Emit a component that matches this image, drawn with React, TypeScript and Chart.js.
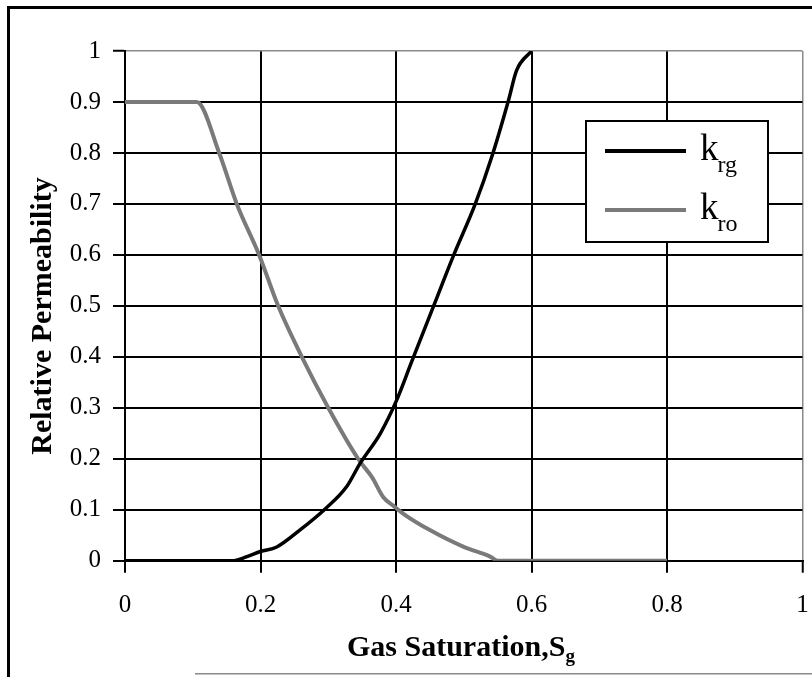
import React, { useEffect, useRef } from 'react';
import { Chart, registerables } from 'chart.js';

Chart.register(...registerables);

// Gas relative permeability k_rg vs gas saturation
const KRG_SG = [0, 0.16, 0.18, 0.2, 0.224, 0.258, 0.295, 0.327, 0.347, 0.377, 0.4, 0.423, 0.455, 0.485, 0.517, 0.542, 0.566, 0.578, 0.6];
const KRG = [0, 0, 0.008, 0.018, 0.027, 0.06, 0.101, 0.145, 0.191, 0.25, 0.312, 0.39, 0.498, 0.599, 0.7, 0.795, 0.903, 0.962, 1.0];

// Oil relative permeability k_ro vs gas saturation
const KRO_SG = [0, 0.106, 0.139, 0.165, 0.198, 0.226, 0.261, 0.3, 0.344, 0.365, 0.381, 0.396, 0.412, 0.45, 0.5, 0.539, 0.55, 0.8];
const KRO = [0.9, 0.9, 0.8, 0.7, 0.6, 0.5, 0.4, 0.3, 0.2, 0.163, 0.125, 0.108, 0.091, 0.06, 0.027, 0.008, 0, 0];

const X_TICKS = [0, 0.2, 0.4, 0.6, 0.8, 1];
const X_TICK_LABELS = ['0', '0.2', '0.4', '0.6', '0.8', '1'];
const Y_TICKS = [0, 0.1, 0.2, 0.3, 0.4, 0.5, 0.6, 0.7, 0.8, 0.9, 1];
const Y_TICK_LABELS = ['0', '0.1', '0.2', '0.3', '0.4', '0.5', '0.6', '0.7', '0.8', '0.9', '1'];

const X_TITLE = 'Gas Saturation,S';
const X_TITLE_SUB = 'g';
const Y_TITLE = 'Relative Permeability';
const LEGEND_MAIN = 'k';
const LEGEND_SUBS = ['rg', 'ro'];
const SERIES_COLORS = ['#000000', '#7a7a7a'];

const FONT = '"Liberation Serif", "Times New Roman", serif';

const overlayPlugin = {
  id: 'overlay',
  afterDraw(chart: any) {
    const ctx = chart.ctx as CanvasRenderingContext2D;
    ctx.save();
    // outer frame (top & left) and bottom faint line
    ctx.fillStyle = '#000';
    ctx.fillRect(7, 6, 805, 3);
    ctx.fillRect(7, 6, 3, 671);
    ctx.fillStyle = '#8a8a8a';
    ctx.fillRect(195, 673, 617, 1.5);

    // Legend
    const lx = 586, ly = 121, lw = 182, lh = 121;
    ctx.fillStyle = '#fff';
    ctx.fillRect(lx, ly, lw, lh);
    ctx.strokeStyle = '#000';
    ctx.lineWidth = 2;
    ctx.strokeRect(lx, ly, lw, lh);
    const rows = [151, 210];
    rows.forEach((y, i) => {
      ctx.strokeStyle = SERIES_COLORS[i];
      ctx.lineWidth = 4;
      ctx.beginPath();
      ctx.moveTo(605, y);
      ctx.lineTo(686, y);
      ctx.stroke();
      ctx.fillStyle = '#000';
      ctx.textAlign = 'left';
      ctx.textBaseline = 'alphabetic';
      ctx.font = `37px ${FONT}`;
      ctx.fillText(LEGEND_MAIN, 700, y + 9);
      const kw = ctx.measureText(LEGEND_MAIN).width;
      ctx.font = `24px ${FONT}`;
      ctx.fillText(LEGEND_SUBS[i], 700 + kw - 1, y + 21);
    });

    // X title
    ctx.fillStyle = '#000';
    ctx.font = `bold 30px ${FONT}`;
    ctx.textAlign = 'left';
    ctx.textBaseline = 'alphabetic';
    ctx.fillText(X_TITLE, 347, 656);
    const tw = ctx.measureText(X_TITLE).width;
    ctx.font = `bold 19px ${FONT}`;
    ctx.fillText(X_TITLE_SUB, 347 + tw, 662);

    // Y title
    ctx.translate(51, 316);
    ctx.rotate(-Math.PI / 2);
    ctx.font = `bold 30px ${FONT}`;
    ctx.textAlign = 'center';
    ctx.fillText(Y_TITLE, 0, 0);
    ctx.restore();
  },
};

export default function App() {
  const ref = useRef<HTMLCanvasElement | null>(null);

  useEffect(() => {
    document.body.style.margin = '0';
    const canvas = ref.current;
    if (!canvas) return;
    const gridColor = (c: any) => (c.tick && Math.abs(c.tick.value - 1) < 1e-9 ? '#8a8a8a' : '#000');
    const gridWidth = (c: any) => (c.tick && Math.abs(c.tick.value - 1) < 1e-9 ? 1.5 : 2);
    const chart = new Chart(canvas, {
      type: 'line',
      data: {
        datasets: [
          {
            label: LEGEND_MAIN + LEGEND_SUBS[0],
            data: KRG_SG.map((x, i) => ({ x, y: KRG[i] })),
            borderColor: SERIES_COLORS[0],
            borderWidth: 3.5,
            pointRadius: 0,
            cubicInterpolationMode: 'monotone',
            fill: false,
          },
          {
            label: LEGEND_MAIN + LEGEND_SUBS[1],
            data: KRO_SG.map((x, i) => ({ x, y: KRO[i] })),
            borderColor: SERIES_COLORS[1],
            borderWidth: 4,
            pointRadius: 0,
            cubicInterpolationMode: 'monotone',
            fill: false,
          },
        ],
      },
      options: {
        responsive: false,
        animation: false,
        devicePixelRatio: 1,
        layout: { padding: { top: 51, left: 0, right: 9.5, bottom: 0 } },
        plugins: { legend: { display: false }, tooltip: { enabled: false }, title: { display: false } },
        scales: {
          x: {
            type: 'linear',
            min: 0,
            max: 1,
            afterBuildTicks: (s: any) => {
              s.ticks = X_TICKS.map((v) => ({ value: v }));
            },
            afterFit: (s: any) => {
              s.height = 116.3;
              s.paddingRight = 0;
              s.paddingLeft = 0;
            },
            ticks: {
              callback: (_v: any, i: number) => X_TICK_LABELS[i],
              font: { family: FONT, size: 25 },
              color: '#000',
              padding: 18,
              maxRotation: 0,
              autoSkip: false,
            },
            grid: { color: gridColor, lineWidth: gridWidth, tickLength: 12, tickColor: '#000', tickWidth: 2 },
            border: { color: '#000', width: 2 },
            title: { display: false },
          },
          y: {
            type: 'linear',
            min: 0,
            max: 1,
            afterBuildTicks: (s: any) => {
              s.ticks = Y_TICKS.map((v) => ({ value: v }));
            },
            afterFit: (s: any) => {
              s.width = 125;
              s.paddingTop = 0;
              s.paddingBottom = 0;
            },
            ticks: {
              callback: (_v: any, i: number) => Y_TICK_LABELS[i],
              font: { family: FONT, size: 25 },
              color: '#000',
              padding: 12,
              autoSkip: false,
            },
            grid: { color: gridColor, lineWidth: gridWidth, tickLength: 12, tickColor: '#000', tickWidth: 2 },
            border: { color: '#000', width: 2 },
            title: { display: false },
          },
        },
      },
      plugins: [overlayPlugin],
    } as any);
    return () => chart.destroy();
  }, []);

  return (
    <div style={{ position: 'relative', width: 812, height: 677, background: '#fff' }}>
      <canvas ref={ref} width={812} height={677} style={{ display: 'block', width: 812, height: 677 }} />
    </div>
  );
}
